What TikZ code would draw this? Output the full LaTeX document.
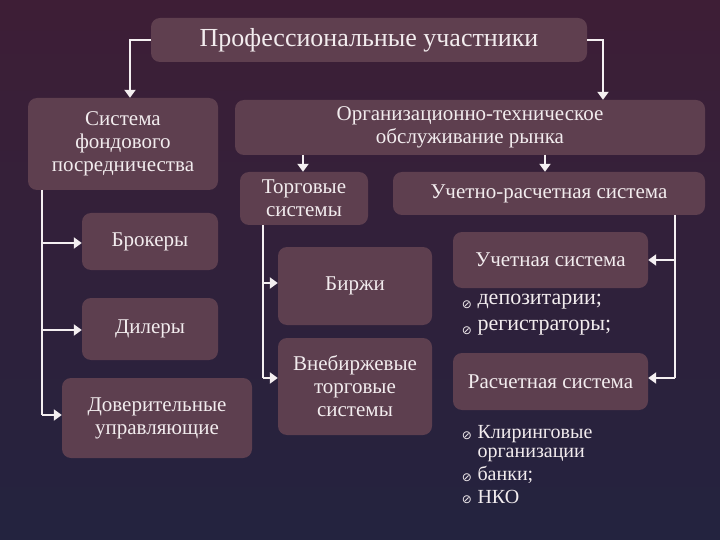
\documentclass[tikz,border=0pt]{standalone}
\usepackage{fontspec}
\setmainfont{Liberation Serif}
\newfontfamily\symf{DejaVu Sans}
\usetikzlibrary{arrows.meta}
\definecolor{bgtop}{HTML}{3E1E36}
\definecolor{bgbot}{HTML}{23233F}
\definecolor{boxc}{HTML}{634352}
\definecolor{txt}{HTML}{F2ECEE}
\tikzset{
 bx/.style={draw=none,fill=boxc,fill opacity=0.9,text opacity=1,rounded corners=9pt,text=txt,align=center,inner sep=2pt,font=\fontsize{21}{23}\selectfont},
 con/.style={draw=txt!85,line width=2.6pt,-{Triangle[length=8pt,width=11pt]}},
 lin/.style={draw=txt!85,line width=2.6pt},
 it/.style={text=txt,anchor=west,align=left,font=\fontsize{22}{22}\selectfont},
 bul/.style={text=txt,font=\symf\fontsize{12}{12}\selectfont}
}
\newcommand{\mybox}[6]{\node[bx,minimum width=#4-#2,minimum height=#5-#3] (#1) at ({(#2+#4)/2},{(#3+#5)/2}) {#6};}
\begin{document}
\begin{tikzpicture}[x=1pt,y=-1pt]
\shade[top color=bgtop,bottom color=bgbot] (0,0) rectangle (720,540);
\useasboundingbox (0,0) rectangle (720,540);
\mybox{t}{151}{18}{587}{62}{\fontsize{26}{28}\selectfont Профессиональные участники}
\mybox{s}{28}{98}{218}{190}{Система\\фондового\\посредничества}
\mybox{o}{235}{100}{705}{155}{Организационно-техническое\\обслуживание рынка}
\mybox{tor}{240}{172}{368}{225}{Торговые\\системы}
\mybox{ur}{393}{172}{705}{215}{Учетно-расчетная система}
\mybox{b}{82}{213}{218}{270}{Брокеры}
\mybox{d}{82}{298}{218}{360}{Дилеры}
\mybox{dov}{62}{378}{252}{458}{Доверительные\\управляющие}
\mybox{bir}{278}{247}{432}{325}{Биржи}
\mybox{vne}{278}{338}{432}{435}{Внебиржевые\\торговые\\системы}
\mybox{uch}{453}{232}{648}{288}{Учетная система}
\mybox{ras}{453}{353}{648}{410}{Расчетная система}
% connectors
\coordinate (c1) at (130,40); \coordinate (c2) at (603,40);
\draw[con] (t.west) -- (c1) -- (c1|-s.north);
\draw[con] (t.east) -- (c2) -- (c2|-o.north);
\coordinate (l0) at (42,190); \coordinate (l3) at (42,415);
\draw[lin] (l0) -- (l3);
\draw[con] (42,243) -- (b.west|-42,243);
\draw[con] (42,330) -- (d.west|-42,330);
\draw[con] (l3) -- (dov.west|-l3);
\coordinate (o1) at (303,155); \coordinate (o2) at (545,155);
\draw[con] (o1) -- (o1|-tor.north);
\draw[con] (o2) -- (o2|-ur.north);
\coordinate (m0) at (263,225); \coordinate (m2) at (263,378);
\draw[lin] (m0) -- (m2);
\draw[con] (263,283) -- (bir.west|-263,283);
\draw[con] (m2) -- (vne.west|-m2);
\coordinate (r0) at (675,215); \coordinate (r2) at (675,378);
\draw[lin] (r0) -- (r2);
\draw[con] (675,260) -- (uch.east|-675,260);
\draw[con] (r2) -- (ras.east|-r2);
% bullet lists
\node[bul] (b1) at (467,305) {⊘}; \node[it] (i1) at (474,302) {депозитарии;};
\node[bul] (b2) at (467,331) {⊘}; \node[it] (i2) at (474,328) {регистраторы;};
\node[bul] (b3) at (467,436) {⊘}; \node[it,font=\fontsize{20}{19}\selectfont] (i3) at (474,444) {Клиринговые\\организации};
\node[bul] (b4) at (467,478) {⊘}; \node[it,font=\fontsize{20}{19}\selectfont] (i4) at (474,475) {банки;};
\node[bul] (b5) at (467,500) {⊘}; \node[it,font=\fontsize{20}{19}\selectfont] (i5) at (474,497) {НКО};
\end{tikzpicture}
\end{document}
